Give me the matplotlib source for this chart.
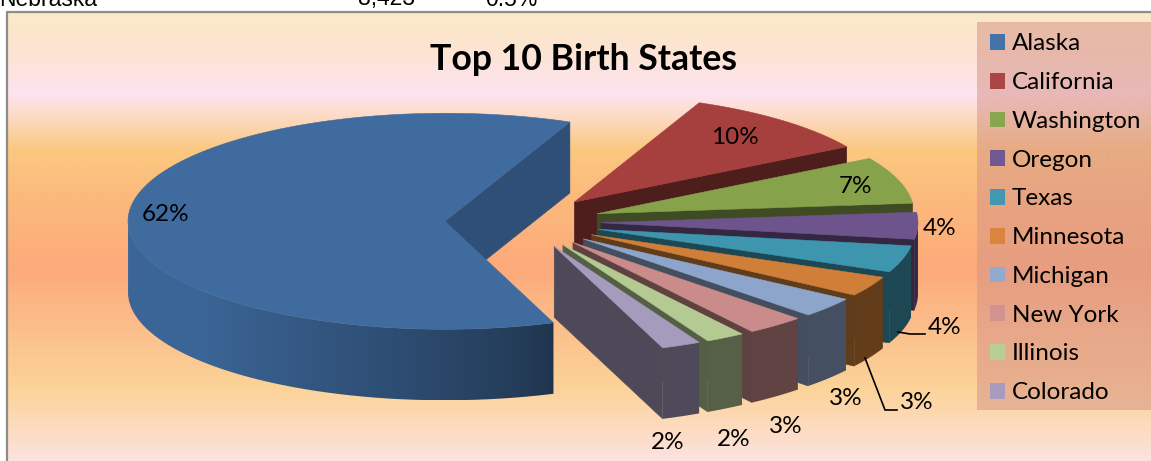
import numpy as np
import matplotlib
matplotlib.use("Agg")
import matplotlib.pyplot as plt
from matplotlib.colors import to_rgb, LinearSegmentedColormap
from matplotlib.patches import Patch, Polygon, Rectangle

states = ["Alaska", "California", "Washington", "Oregon", "Texas",
          "Minnesota", "Michigan", "New York", "Illinois", "Colorado"]
percent = [62, 10, 7, 4, 4, 3, 3, 3, 2, 2]
top_colors = ["#3f6b9f", "#a5403e", "#86a24a", "#6e548d", "#3d96ae",
              "#cf7f38", "#8ea5cb", "#c98c8b", "#b5ca92", "#a59bbd"]
legend_colors = ["#4572a7", "#aa4643", "#89a54e", "#71588f", "#4198af",
                 "#db843d", "#93a9cf", "#d19392", "#b9cd96", "#a99bbd"]
label_pos = [(166, 214.5), (735, 137.5), (856, 186.5), (940, 228.5), (945, 327.5),
             (917, 402.5), (846, 398.5), (786, 426.5), (734, 439.5), (668, 442.5)]

# backdrop gradient, top to bottom
bg_y = [12, 50, 95, 115, 150, 200, 270, 330, 390, 461]
bg_c = ["#fbe9c7", "#fce4d2", "#fde3f0", "#fddcc8", "#fbc880", "#fbb97c",
        "#fdaa7a", "#fbbf8c", "#fcd398", "#fde2e0"]

# pie geometry, in pixels
cx, cy = 523, 222
R = 317
ry = 108
depth = 71
explode = 78
start = 160

fig = plt.figure(figsize=(11.51, 4.61), dpi=100)
ax = fig.add_axes([0, 0, 1, 1])
ax.set_xlim(0, 1151)
ax.set_ylim(461, 0)
ax.set_autoscale_on(False)
ax.axis("off")

pos = [(y - bg_y[0]) / (bg_y[-1] - bg_y[0]) for y in bg_y]
cmap = LinearSegmentedColormap.from_list("bg", list(zip(pos, bg_c)))
ax.imshow(np.linspace(0, 1, 450).reshape(-1, 1), cmap=cmap, aspect="auto",
          extent=(7, 1151, 461, 12), zorder=0)
ax.plot([7, 7, 1151], [461, 12, 12], color="#8c8c8c", lw=1.6, zorder=1)

# stray table row above the chart, cut off by the page edge
for x, s in [(-1, "Nebraska"), (358, "8,423"), (485, "0.5%")]:
    ax.text(x, 5.5, s, family="Liberation Sans", fontsize=16.5, va="baseline",
            clip_on=False)


def shade(col, f):
    return tuple(c * f for c in to_rgb(col))


def point(x0, y0, a):
    r = np.radians(a)
    return x0 + R * np.sin(r), y0 - ry * np.cos(r)


def side_factor(a):
    # front wall gets lighter towards the left
    return np.where(a <= 160, 0.48,
                    0.49 + 0.46 * np.clip((a - 160) / 70, 0, 1) ** 0.8)


a1 = start
for i, p in enumerate(percent):
    span = p * 3.6
    a2 = a1 + span
    mid = np.radians((a1 + a2) / 2)
    ox = cx + explode * np.sin(mid)
    oy = cy - explode * np.cos(mid) * ry / R
    col = top_colors[i]
    z = 3 + i

    # radial wall on the clockwise end
    ex, ey = point(ox, oy, a2)
    wall = 0.74 if i == 0 else 0.47
    ax.fill([ox, ex, ex, ox], [oy, ey, ey + depth, oy + depth],
            color=shade(col, wall), lw=0.4, zorder=z)

    # outer wall, only the part that faces front
    lo, hi = max(a1, 90), min(a2, 270)
    if hi > lo:
        arc = np.linspace(lo, hi, 200)
        xs, ys = point(ox, oy, arc)
        outline = np.c_[np.r_[xs, xs[::-1]], np.r_[ys, ys[::-1] + depth]]
        clip = Polygon(outline, closed=True, transform=ax.transData,
                       fill=False, lw=0)
        ax.add_patch(clip)
        # colour runs with the angle, so look it up column by column
        cols = np.linspace(xs.min(), xs.max(), 300)
        ang = 180 - np.degrees(np.arcsin(np.clip((cols - ox) / R, -1, 1)))
        strip = np.array(to_rgb(col))[None, None, :] * side_factor(ang)[None, :, None]
        im = ax.imshow(strip, aspect="auto", zorder=z, interpolation="bilinear",
                       extent=(cols[0], cols[-1], ys.max() + depth, ys.min()))
        im.set_clip_path(clip)

    # top face
    arc = np.linspace(a1, a2, max(8, int(span) * 2))
    xs, ys = point(ox, oy, arc)
    ax.fill(np.r_[ox, xs], np.r_[oy, ys], color=col, lw=0.4, zorder=z + 0.5)
    a1 = a2 % 360

for (x, y), p in zip(label_pos, percent):
    ax.text(x, y, "%d%%" % p, family="Lato", fontsize=17.5, ha="center",
            va="center", color="black", zorder=20)

# leader lines for the two outside labels
ax.plot([898, 910, 925], [332, 334, 334], color="black", lw=1.2, zorder=20)
ax.plot([865, 885, 897], [358, 410, 410], color="black", lw=1.2, zorder=20)

ax.text(584, 59, "Top 10 Birth States", family="Lato", fontsize=25.7,
        fontweight="bold", ha="center", va="center", zorder=20)

# legend panel
ax.add_patch(Rectangle((977, 22), 174, 388, facecolor="#d69286", alpha=0.53,
                       lw=0, zorder=15))
handles = [Patch(facecolor=c, edgecolor="none") for c in legend_colors]
ax.legend(handles, states, loc="upper left", bbox_to_anchor=(990, 33.5),
          bbox_transform=ax.transData, frameon=False, borderpad=0,
          borderaxespad=0, handlelength=0.62, handleheight=0.62,
          handletextpad=0.29, labelspacing=0.73,
          prop={"family": "Lato", "size": 17.5}).set_zorder(20)

fig.savefig("out.png", dpi=100)
